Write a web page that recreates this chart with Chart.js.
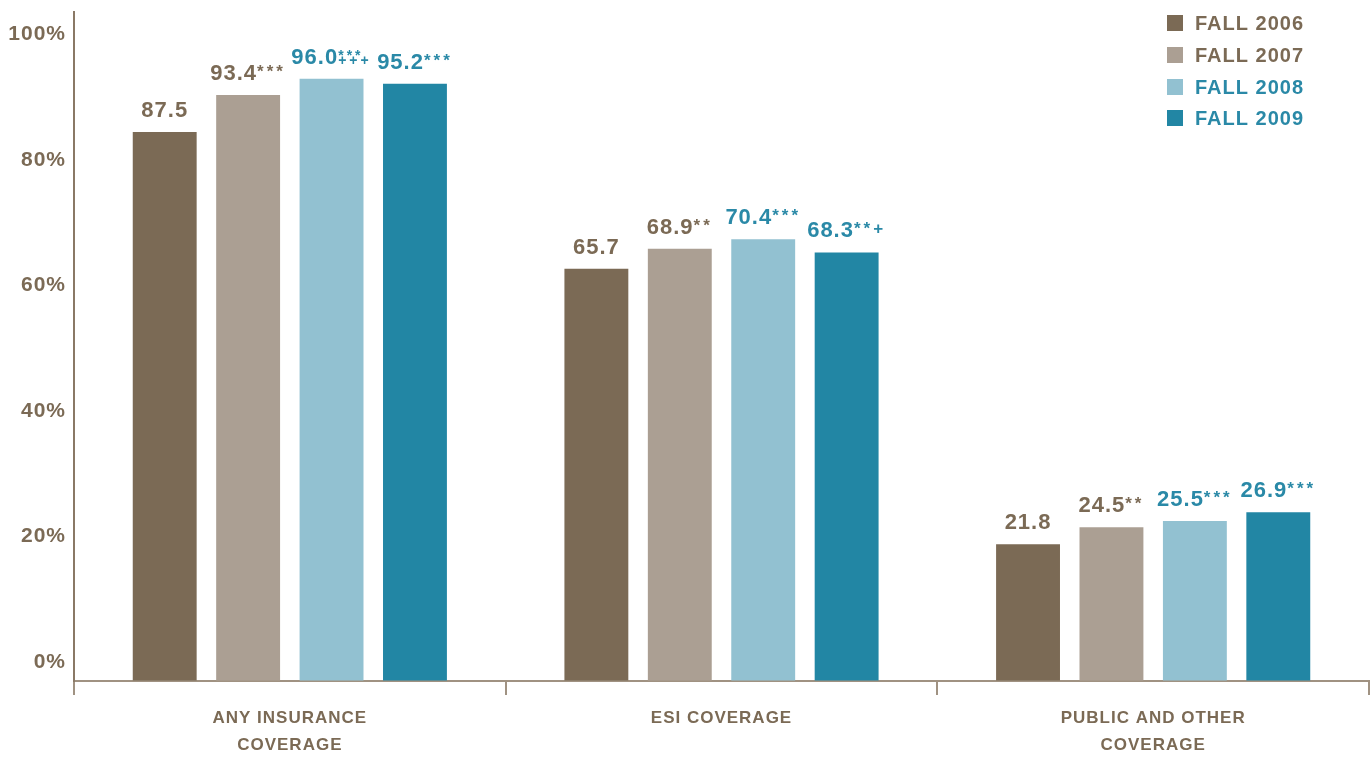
<!DOCTYPE html>
<html>
<head>
<meta charset="utf-8">
<script src="https://cdn.jsdelivr.net/npm/chart.js@4.4.1/dist/chart.umd.min.js"></script>
<style>
  html, body { margin: 0; padding: 0; background: #ffffff; }
  #wrap { width: 1372px; height: 761px; }
</style>
</head>
<body>
<div id="wrap"><canvas id="myChart" width="1372" height="761"></canvas></div>
<script>
// data
const categories = [['ANY INSURANCE', 'COVERAGE'], 'ESI COVERAGE', ['PUBLIC AND OTHER', 'COVERAGE']];
const seriesNames = ['FALL 2006', 'FALL 2007', 'FALL 2008', 'FALL 2009'];
const fall2006 = [87.5, 65.7, 21.8];
const fall2007 = [93.4, 68.9, 24.5];
const fall2008 = [96.0, 70.4, 25.5];
const fall2009 = [95.2, 68.3, 26.9];
// significance marks after each value ("\n" = second mark row under the first)
const sig2006 = ['', '', ''];
const sig2007 = ['***', '**', '**'];
const sig2008 = ['***\n+++', '***', '***'];
const sig2009 = ['***', '**+', '***'];
const yTicks = [0, 20, 40, 60, 80, 100];

const brown = '#7b6a55';
const teal = '#2a89a7';
const barColors = ['#7b6a55', '#ab9f93', '#92c1d1', '#2286a4'];
const textColors = [brown, brown, teal, teal];
const FONT = '"Liberation Sans", Arial, sans-serif';

var allValues = [fall2006, fall2007, fall2008, fall2009];
var allSigs = [sig2006, sig2007, sig2008, sig2009];

var datasets = [];
for (let i = 0; i < seriesNames.length; i++) {
    datasets.push({
        label: seriesNames[i],
        data: allValues[i],
        backgroundColor: barColors[i],
        borderWidth: 0,
        categoryPercentage: 0.773,
        barPercentage: 0.766
    });
}

const spacing = {
    id: 'spacing',
    beforeDraw(chart) {
        chart.ctx.letterSpacing = '1px';
    }
};

const valueLabels = {
    id: 'valueLabels',
    afterDatasetsDraw(chart) {
        const ctx = chart.ctx;
        ctx.save();
        chart.data.datasets.forEach((ds, i) => {
            const meta = chart.getDatasetMeta(i);
            meta.data.forEach((bar, j) => {
                const num = ds.data[j].toFixed(1);
                const marks = allSigs[i][j].split('\n');
                ctx.letterSpacing = '1px';
                ctx.font = 'bold 22px ' + FONT;
                const wNum = ctx.measureText(num).width;
                ctx.letterSpacing = '3px';
                ctx.font = 'bold ' + (marks.length > 1 ? 14 : 17) + 'px ' + FONT;
                let wSig = 0;
                marks.forEach(m => { if (m) wSig = Math.max(wSig, ctx.measureText(m).width); });
                const base = bar.y - 15;
                let x = bar.x - (wNum + wSig) / 2;
                ctx.fillStyle = textColors[i];
                ctx.textAlign = 'left';
                ctx.textBaseline = 'alphabetic';
                ctx.letterSpacing = '1px';
                ctx.font = 'bold 22px ' + FONT;
                ctx.fillText(num, x, base);
                x += wNum;
                ctx.letterSpacing = '3px';
                if (marks.length > 1) {
                    ctx.font = 'bold 14px ' + FONT;
                    ctx.fillText(marks[0], x, base - 4);
                    ctx.fillText(marks[1], x, base + 1);
                } else if (marks[0]) {
                    ctx.font = 'bold 17px ' + FONT;
                    ctx.fillText(marks[0], x, base - 3);
                }
            });
        });
        ctx.restore();
    }
};

const sideLegend = {
    id: 'sideLegend',
    afterDraw(chart) {
        const ctx = chart.ctx;
        ctx.save();
        ctx.letterSpacing = '1px';
        ctx.font = 'bold 20px ' + FONT;
        ctx.textBaseline = 'middle';
        ctx.textAlign = 'left';
        const rows = [23, 55, 87, 118];
        chart.data.datasets.forEach((ds, i) => {
            ctx.fillStyle = ds.backgroundColor;
            ctx.fillRect(1167, rows[i] - 8, 16, 16);
            ctx.fillStyle = textColors[i];
            ctx.fillText(ds.label, 1195, rows[i] + 1);
        });
        ctx.restore();
    }
};

const ctx = document.getElementById('myChart').getContext('2d');
const myChart = new Chart(ctx, {
    type: 'bar',
    data: {
        labels: categories,
        datasets: datasets
    },
    options: {
        responsive: false,
        animation: false,
        layout: { padding: { top: 3, right: 3, left: 0, bottom: 0 } },
        plugins: {
            legend: { display: false },
            tooltip: { enabled: false }
        },
        scales: {
            x: {
                grid: {
                    display: true,
                    offset: true,
                    drawOnChartArea: false,
                    drawTicks: true,
                    tickLength: 14,
                    color: '#a09282',
                    lineWidth: 2
                },
                border: { display: true, color: '#a09282', width: 2 },
                ticks: {
                    color: brown,
                    padding: 10,
                    font: { family: FONT, size: 17, weight: 'bold', lineHeight: 1.6 },
                    maxRotation: 0
                },
                afterFit(scale) { scale.height = 80; }
            },
            y: {
                min: 0,
                max: 106.6,
                grid: { display: true, drawOnChartArea: false, drawTicks: false },
                border: { display: true, color: '#8a7966', width: 2 },
                afterBuildTicks(scale) {
                    scale.ticks = yTicks.map(v => ({ value: v }));
                },
                ticks: {
                    color: brown,
                    padding: 8,
                    labelOffset: -19,
                    font: { family: FONT, size: 21, weight: 'bold', lineHeight: 0.4 },
                    callback: v => v + '%'
                },
                afterFit(scale) { scale.width = 74; }
            }
        }
    },
    plugins: [spacing, valueLabels, sideLegend]
});
</script>
</body>
</html>
